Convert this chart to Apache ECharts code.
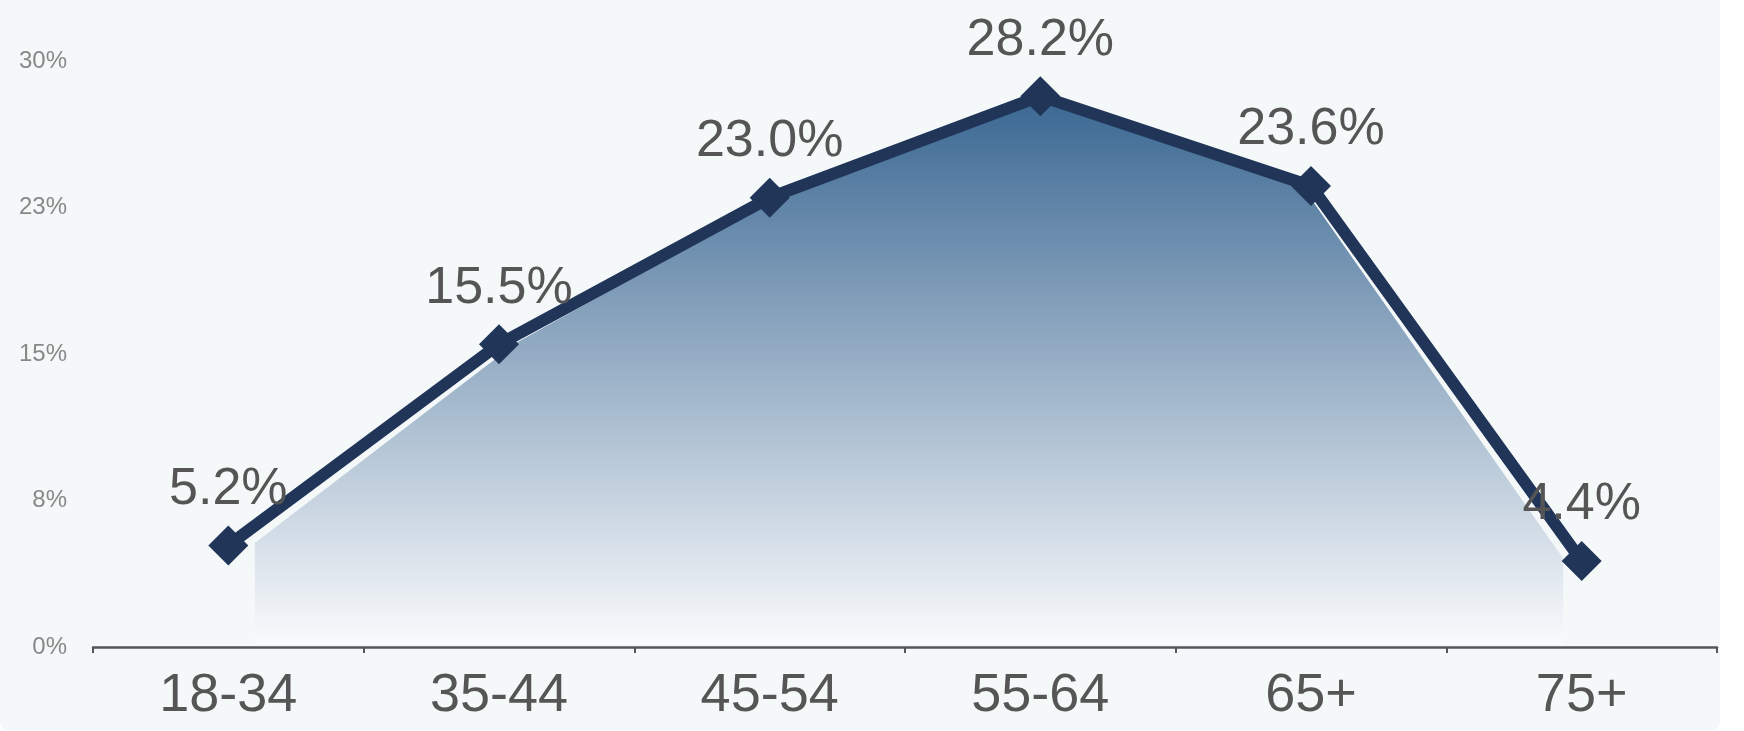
<!DOCTYPE html>
<html>
<head>
<meta charset="utf-8">
<script src="https://cdn.jsdelivr.net/npm/echarts@6/dist/echarts.min.js"></script>
<style>
  html, body { margin: 0; padding: 0; background: #ffffff; }
  #chart { width: 1720px; height: 730px; background: #f4f8f9; border-radius: 0 0 8px 8px; overflow: hidden; }
</style>
</head>
<body>
<div id="chart"></div>
<script>
const categories = ['18-34', '35-44', '45-54', '55-64', '65+', '75+'];
const shareValues = [5.2, 15.5, 23.0, 28.2, 23.6, 4.4];
const yTickMax = 30;
const yTickStep = 7.5;

const chart = echarts.init(document.getElementById('chart'), null, { renderer: 'canvas' });
const fontFamily = "'Liberation Sans', Arial, Helvetica, sans-serif";

const option = {
  backgroundColor: 'transparent',
  animation: false,
  grid: [
    { left: 93, right: 3, top: 61, bottom: 83 },
    { left: 124, right: 26, top: 61, bottom: 86 }
  ],
  xAxis: [
    {
      type: 'category', gridIndex: 0, data: categories, boundaryGap: true, z: 10,
      axisLine: { show: true, lineStyle: { color: '#555555', width: 2.5 } },
      axisTick: { show: true, length: 6, lineStyle: { color: '#555555', width: 2 } },
      axisLabel: { color: '#555555', fontSize: 54, fontFamily: fontFamily, margin: 22 },
      splitLine: { show: false }
    },
    {
      type: 'category', gridIndex: 1, data: categories, boundaryGap: true, show: false
    }
  ],
  yAxis: [
    {
      type: 'value', gridIndex: 0, min: 0, max: yTickMax, interval: yTickStep,
      axisLine: { show: false }, axisTick: { show: false }, splitLine: { show: false },
      axisLabel: { color: '#888888', fontSize: 24, fontFamily: fontFamily, margin: 26,
        formatter: v => Math.round(v) + '%' }
    },
    {
      type: 'value', gridIndex: 1, min: 0, max: yTickMax, interval: yTickStep, show: false
    }
  ],
  series: [
    {
      type: 'line', xAxisIndex: 1, yAxisIndex: 1, data: shareValues,
      showSymbol: false, symbol: 'none', silent: true,
      lineStyle: { width: 0 },
      areaStyle: {
        opacity: 1,
        color: new echarts.graphic.LinearGradient(0, 0, 0, 1, [
          { offset: 0, color: '#3a6792' },
          { offset: 1, color: '#f9fafc' }
        ])
      },
      z: 1
    },
    {
      type: 'line', xAxisIndex: 0, yAxisIndex: 0, data: shareValues,
      symbol: 'diamond', symbolSize: 40,
      itemStyle: { color: '#213559' },
      lineStyle: { color: '#213559', width: 12 },
      label: {
        show: true, position: 'top', distance: 10,
        color: '#555555', fontSize: 52, fontFamily: fontFamily,
        formatter: p => p.value.toFixed(1) + '%'
      },
      z: 3
    }
  ]
};
chart.setOption(option);
</script>
</body>
</html>
